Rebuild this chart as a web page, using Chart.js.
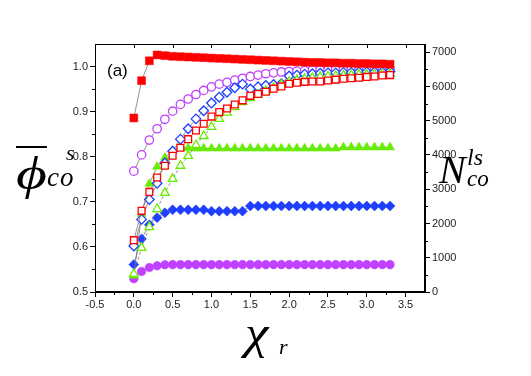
<!DOCTYPE html>
<html>
<head>
<meta charset="utf-8">
<script src="https://cdn.jsdelivr.net/npm/chart.js@4"></script>
<style>
body { margin: 0; background: #fff; }
#wrap { position: relative; width: 531px; height: 376px; }
.lbl { position: absolute; font-family: 'Liberation Serif', 'Times New Roman', serif; font-style: italic; line-height: 1; color: #000; white-space: nowrap; transform-origin: left top; }
.tag { position: absolute; font-family: 'Liberation Sans', Arial, sans-serif; font-size: 17px; line-height: 1; color: #000; }
</style>
</head>
<body>
<div id="wrap">
  <canvas id="c" width="531" height="376"></canvas>
  <div class="tag" style="left:107px;top:62px">(a)</div>
  <div class="lbl" style="left:16px;top:151px;font-size:46px;transform:scaleX(1.3);text-decoration:overline;text-decoration-thickness:1.5px">ϕ</div>
  <div class="lbl" style="left:66px;top:142px;font-size:22px">s</div>
  <div class="lbl" style="left:47px;top:164px;font-size:27px;letter-spacing:1px">co</div>
  <div class="lbl" style="left:439px;top:150px;font-size:40px">N</div>
  <div class="lbl" style="left:467px;top:145px;font-size:24px">ls</div>
  <div class="lbl" style="left:467px;top:167px;font-size:23px">co</div>
  <div class="lbl" style="left:245px;top:310px;font-size:46px;transform:scaleX(1.15)">χ</div>
  <div class="lbl" style="left:279px;top:336px;font-size:22px">r</div>
</div>
<script>
// x values shared by all series
const CHI = [0, 0.1, 0.2, 0.3, 0.4, 0.5, 0.6, 0.7, 0.8, 0.9, 1.0, 1.1, 1.2, 1.3, 1.4, 1.5, 1.6,
  1.7, 1.8, 1.9, 2.0, 2.1, 2.2, 2.3, 2.4, 2.5, 2.6, 2.7, 2.8, 2.9, 3.0, 3.1, 3.2, 3.3]

// open symbols: phi_co^s (left axis)
const PHI_VIOLET = [0.768, 0.804, 0.837, 0.862, 0.883, 0.901, 0.916, 0.928, 0.938, 0.947, 0.955, 0.961, 0.965, 0.970, 0.974, 0.978, 0.981,
  0.984, 0.986, 0.988, 0.989, 0.990, 0.991, 0.992, 0.992, 0.993, 0.993, 0.993, 0.994, 0.994, 0.994, 0.994, 0.995, 0.995]
const PHI_BLUE = [0.602, 0.661, 0.705, 0.741, 0.786, 0.812, 0.839, 0.862, 0.884, 0.902, 0.919, 0.932, 0.943, 0.953, 0.961, 0.950, 0.955,
  0.958, 0.960, 0.962, 0.979, 0.981, 0.983, 0.984, 0.985, 0.986, 0.986, 0.987, 0.987, 0.988, 0.988, 0.988, 0.988, 0.989]
const PHI_RED = [0.615, 0.680, 0.722, 0.754, 0.780, 0.802, 0.820, 0.839, 0.858, 0.873, 0.889, 0.899, 0.907, 0.916, 0.925, 0.935, 0.939,
  0.944, 0.951, 0.956, 0.962, 0.964, 0.966, 0.967, 0.967, 0.969, 0.971, 0.973, 0.974, 0.975, 0.977, 0.978, 0.980, 0.981]
const PHI_GREEN = [0.540, 0.598, 0.644, 0.684, 0.720, 0.751, 0.780, 0.802, 0.826, 0.846, 0.866, 0.884, 0.898, 0.910, 0.921, 0.930, 0.938,
  0.946, 0.953, 0.960, 0.966, 0.970, 0.973, 0.975, 0.977, 0.978, 0.979, 0.980, 0.981, 0.982, 0.982, 0.983, 0.983, 0.984]

// filled symbols: N_co^ls (right axis)
const N_RED = [5080, 6170, 6750, 6920, 6900, 6880, 6870, 6860, 6850, 6840, 6830, 6820, 6810, 6800, 6790, 6780, 6770,
  6760, 6750, 6740, 6730, 6720, 6710, 6700, 6700, 6690, 6690, 6680, 6680, 6670, 6670, 6660, 6660, 6650]
const N_GREEN = [480, 2280, 3160, 3660, 3920, 4130, 4240, 4200, 4190, 4190, 4190, 4190, 4190, 4190, 4190, 4190, 4190,
  4190, 4190, 4190, 4190, 4190, 4190, 4190, 4190, 4190, 4190, 4225, 4225, 4225, 4225, 4225, 4225, 4225]
const N_BLUE = [800, 1550, 1960, 2170, 2310, 2400, 2400, 2400, 2400, 2400, 2360, 2360, 2360, 2360, 2360, 2510, 2510,
  2510, 2510, 2510, 2510, 2510, 2510, 2510, 2510, 2510, 2510, 2510, 2510, 2510, 2510, 2510, 2510, 2510]
const N_VIOLET = [390, 600, 715, 765, 795, 800, 800, 800, 800, 800, 800, 800, 800, 800, 800, 800, 800,
  800, 800, 800, 800, 800, 800, 800, 800, 800, 800, 800, 800, 800, 800, 800, 800, 800]

// ticks
const X_MAJOR = [-0.5, 0, 0.5, 1, 1.5, 2, 2.5, 3, 3.5]
const X_MINOR = [-0.25, 0.25, 0.75, 1.25, 1.75, 2.25, 2.75, 3.25]
const Y_MAJOR = [0.5, 0.6, 0.7, 0.8, 0.9, 1.0]
const Y_MINOR = [0.55, 0.65, 0.75, 0.85, 0.95]
const N_MAJOR = [0, 1000, 2000, 3000, 4000, 5000, 6000, 7000]
const N_MINOR = [500, 1500, 2500, 3500, 4500, 5500, 6500]

const RED = '#ff0000'
const VIOLET = '#bf40ff'
const BLUE = '#1f3fff'
const GREEN = '#66ee00'
const LINE = '#777'
const TX = { color: '#222', font: { size: 11, family: "'Liberation Sans',Arial,sans-serif" } }

const pts = arr => CHI.map((x, i) => ({ x, y: arr[i] }))

function DS (data, style, color, filled, radius, axis, extra = {}) {
  return {
    data: pts(data), yAxisID: axis,
    pointStyle: style, pointRadius: radius, pointHoverRadius: radius,
    pointBackgroundColor: filled ? color : '#fff', pointBorderColor: color, pointBorderWidth: filled ? 0.5 : 1.3,
    borderColor: LINE, borderWidth: 0.8, showLine: true, tension: 0, ...extra
  }
}

// frame, minor ticks and inward top ticks
const framePlugin = {
  id: 'frame',
  afterDraw (chart) {
    const { ctx, chartArea: a, scales } = chart
    ctx.save()
    ctx.strokeStyle = '#000'; ctx.lineWidth = 1
    ctx.strokeRect(a.left + 0.5, a.top + 0.5, a.right - a.left - 1, a.bottom - a.top - 1)
    ctx.beginPath()
    X_MINOR.forEach(v => { const p = Math.round(scales.x.getPixelForValue(v)) + 0.5; ctx.moveTo(p, a.bottom); ctx.lineTo(p, a.bottom + 3) })
    X_MAJOR.forEach(v => { const p = Math.round(scales.x.getPixelForValue(v)) + 0.5; ctx.moveTo(p, a.top); ctx.lineTo(p, a.top + 4) })
    Y_MINOR.forEach(v => { const p = Math.round(scales.y.getPixelForValue(v)) + 0.5; ctx.moveTo(a.left, p); ctx.lineTo(a.left - 3, p) })
    N_MINOR.forEach(v => { const p = Math.round(scales.y2.getPixelForValue(v)) + 0.5; ctx.moveTo(a.right, p); ctx.lineTo(a.right + 3, p) })
    ctx.stroke()
    ctx.restore()
  }
}

new Chart(document.getElementById('c'), {
  type: 'line',
  data: {
    datasets: [
      DS(N_RED, 'rect', RED, true, 5.6, 'y2'),
      DS(PHI_RED, 'rect', RED, false, 4.8, 'y'),
      DS(PHI_GREEN, 'triangle', GREEN, false, 5, 'y', { borderDash: [3, 2] }),
      DS(PHI_BLUE, 'rectRot', BLUE, false, 4.8, 'y'),
      DS(PHI_VIOLET, 'circle', VIOLET, false, 4.2, 'y'),
      DS(N_GREEN, 'triangle', GREEN, true, 5.2, 'y2'),
      DS(N_BLUE, 'rectRot', BLUE, true, 5, 'y2'),
      DS(N_VIOLET, 'circle', VIOLET, true, 4.3, 'y2')
    ]
  },
  options: {
    responsive: false, animation: false, devicePixelRatio: 1,
    layout: { padding: { top: 44, left: 0, right: 0, bottom: 0 } },
    plugins: { legend: { display: false }, tooltip: { enabled: false } },
    scales: {
      x: {
        type: 'linear', min: -0.5, max: 3.75,
        afterBuildTicks: s => { s.ticks = X_MAJOR.map(value => ({ value })) },
        afterFit: s => { s.height = 84 },
        ticks: { ...TX, padding: 1, maxRotation: 0, autoSkip: false, callback: v => v.toFixed(1) },
        grid: { drawOnChartArea: false, tickLength: 5, color: '#000' },
        border: { color: '#000' }
      },
      y: {
        position: 'left', min: 0.5, max: 1.05,
        afterBuildTicks: s => { s.ticks = Y_MAJOR.map(value => ({ value })) },
        afterFit: s => { s.width = 95 },
        ticks: { ...TX, padding: 2, callback: v => v.toFixed(1) },
        grid: { drawOnChartArea: false, tickLength: 5, color: '#000' },
        border: { color: '#000' }
      },
      y2: {
        position: 'right', min: 0, max: 7240,
        afterBuildTicks: s => { s.ticks = N_MAJOR.map(value => ({ value })) },
        afterFit: s => { s.width = 106 },
        ticks: { ...TX, padding: 2, callback: v => String(v) },
        grid: { drawOnChartArea: false, tickLength: 5, color: '#000' },
        border: { color: '#000' }
      }
    }
  },
  plugins: [framePlugin]
})
</script>
</body>
</html>
